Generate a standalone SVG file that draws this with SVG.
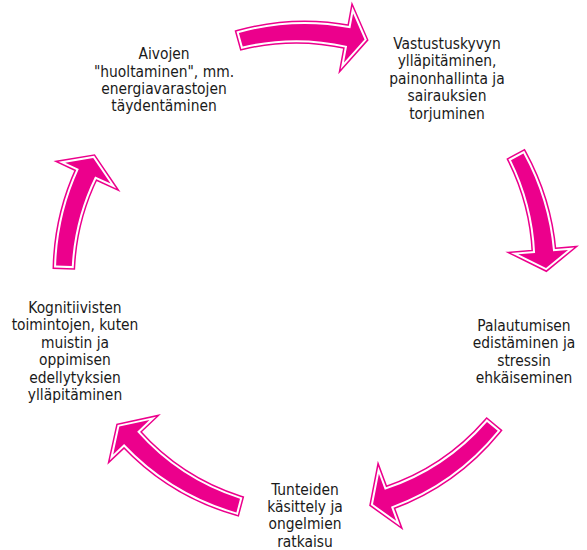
<svg xmlns="http://www.w3.org/2000/svg" width="587" height="550" viewBox="0 0 587 550">
<defs>
<style>
.lbl{font-family:"DejaVu Sans Condensed","DejaVu Sans",sans-serif;font-size:15.4px;fill:#1a1a1a;text-anchor:middle}
.a1{fill:#EC008C;stroke:#EC008C;stroke-width:7;stroke-miterlimit:4}
.a2{fill:none;stroke:#ffffff;stroke-width:4;stroke-miterlimit:4}
.a3{fill:#EC008C;stroke:none}
</style>
<path id="p1" d="M238.9,32.9 A249,249 0 0 1 350.4,28.2 L353.1,13.4 L364.5,39.5 L344.0,62.6 L347.1,45.9 A232.5,232.5 0 0 0 242.7,46.5 Z"/>
<path id="p2" d="M523.4,153.4 A249,249 0 0 1 553.1,251.3 L568.0,250.0 L546.0,268.0 L518.2,254.3 L535.1,252.9 A232.5,232.5 0 0 0 511.0,160.2 Z"/>
<path id="p3" d="M497.7,430.7 A249,249 0 0 1 391.0,506.7 L396.2,520.8 L373.0,504.2 L378.9,473.8 L384.8,489.8 A232.5,232.5 0 0 0 487.0,421.9 Z"/>
<path id="p4" d="M236.4,512.4 A249,249 0 0 1 124.1,444.1 L113.2,454.4 L119.3,426.6 L149.5,420.1 L137.2,431.8 A232.5,232.5 0 0 0 240.0,498.8 Z"/>
<path id="p5" d="M56.1,265.6 A249,249 0 0 1 78.8,169.0 L65.2,162.7 L93.2,158.0 L110.6,183.6 L95.1,176.5 A232.5,232.5 0 0 0 71.8,266.1 Z"/>
</defs>
<g id="connectors">
<g id="arrow1"><use href="#p1" class="a1"/><use href="#p1" class="a2"/><use href="#p1" class="a3"/></g>
<g id="arrow2"><use href="#p2" class="a1"/><use href="#p2" class="a2"/><use href="#p2" class="a3"/></g>
<g id="arrow3"><use href="#p3" class="a1"/><use href="#p3" class="a2"/><use href="#p3" class="a3"/></g>
<g id="arrow4"><use href="#p4" class="a1"/><use href="#p4" class="a2"/><use href="#p4" class="a3"/></g>
<g id="arrow5"><use href="#p5" class="a1"/><use href="#p5" class="a2"/><use href="#p5" class="a3"/></g>
</g>
<g id="node-aivot">
<text class="lbl" x="164" y="59.3">Aivojen</text>
<text class="lbl" x="164" y="76.5">"huoltaminen", mm.</text>
<text class="lbl" x="164" y="93.7">energiavarastojen</text>
<text class="lbl" x="164" y="110.9">täydentäminen</text>
</g>
<g id="node-vastustuskyky">
<text class="lbl" x="447" y="49">Vastustuskyvyn</text>
<text class="lbl" x="447" y="66.4">ylläpitäminen,</text>
<text class="lbl" x="447" y="83.8">painonhallinta ja</text>
<text class="lbl" x="447" y="101.2">sairauksien</text>
<text class="lbl" x="447" y="118.6">torjuminen</text>
</g>
<g id="node-palautuminen">
<text class="lbl" x="524" y="331">Palautumisen</text>
<text class="lbl" x="524" y="348.4">edistäminen ja</text>
<text class="lbl" x="524" y="365.8">stressin</text>
<text class="lbl" x="524" y="383.2">ehkäiseminen</text>
</g>
<g id="node-tunteet">
<text class="lbl" x="305" y="495">Tunteiden</text>
<text class="lbl" x="305" y="512.2">käsittely ja</text>
<text class="lbl" x="305" y="529.4">ongelmien</text>
<text class="lbl" x="305" y="546.6">ratkaisu</text>
</g>
<g id="node-kognitio">
<text class="lbl" x="75" y="313">Kognitiivisten</text>
<text class="lbl" x="75" y="330.4">toimintojen, kuten</text>
<text class="lbl" x="75" y="347.8">muistin ja</text>
<text class="lbl" x="75" y="365.2">oppimisen</text>
<text class="lbl" x="75" y="382.6">edellytyksien</text>
<text class="lbl" x="75" y="400">ylläpitäminen</text>
</g>
</svg>
